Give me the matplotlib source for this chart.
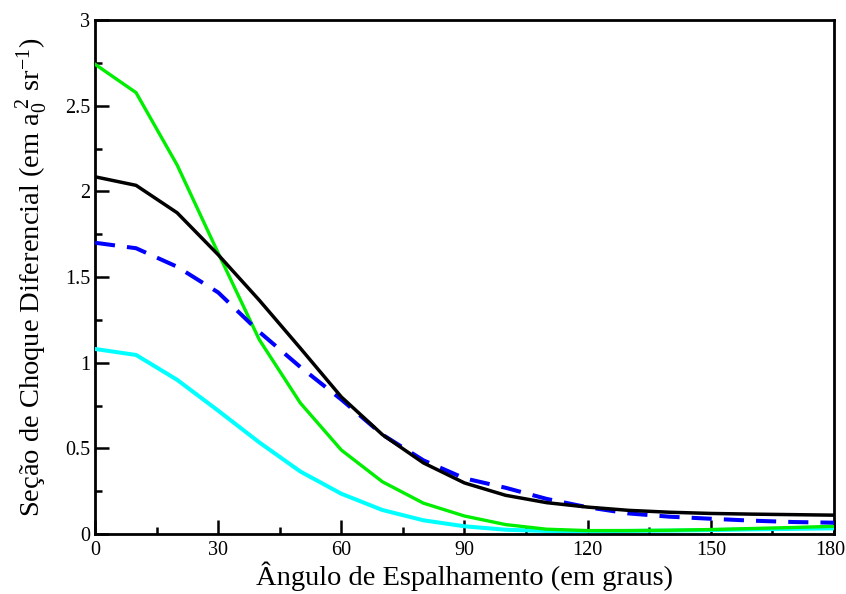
import matplotlib

matplotlib.use("Agg")
import matplotlib.pyplot as plt
from matplotlib.ticker import FuncFormatter, MultipleLocator
from matplotlib.transforms import ScaledTranslation

# scattering angle (degrees)
angles = [0, 10, 20, 30, 40, 50, 60, 70, 80, 90, 100, 110, 120, 130, 140, 150, 160, 170, 180]

# differential cross sections (a0^2 sr^-1)
dcs_black = [2.085, 2.035, 1.875, 1.63, 1.365, 1.085, 0.80, 0.58, 0.415, 0.298, 0.226, 0.183,
             0.157, 0.138, 0.127, 0.120, 0.116, 0.113, 0.110]
dcs_blue = [1.70, 1.668, 1.56, 1.41, 1.18, 0.975, 0.785, 0.58, 0.43, 0.325, 0.27, 0.205,
            0.156, 0.12, 0.101, 0.089, 0.078, 0.070, 0.066]
dcs_green = [2.742, 2.576, 2.154, 1.64, 1.135, 0.765, 0.49, 0.305, 0.18, 0.105, 0.055, 0.028,
             0.02, 0.02, 0.022, 0.026, 0.032, 0.038, 0.045]
dcs_cyan = [1.08, 1.045, 0.90, 0.72, 0.535, 0.365, 0.235, 0.14, 0.08, 0.045, 0.025, 0.018,
            0.017, 0.018, 0.020, 0.023, 0.027, 0.030, 0.033]

plt.rcParams["font.family"] = ["Liberation Serif", "DejaVu Serif"]
plt.rcParams["mathtext.fontset"] = "custom"
plt.rcParams["mathtext.rm"] = "Liberation Serif"
plt.rcParams["mathtext.it"] = "Liberation Serif:italic"

fig = plt.figure(figsize=(8.46, 5.94), dpi=100, facecolor="white")
ax = fig.add_axes([0.1123, 0.101, 0.8735, 0.8653])

ax.plot(angles, dcs_cyan, color="#00FFFF", linewidth=2.9, zorder=3)
ax.plot(angles, dcs_green, color="#00EE00", linewidth=2.4, zorder=4)
ax.plot(angles, dcs_blue, color="#0000FF", linewidth=2.9, dashes=(5, 3), zorder=5)
ax.plot(angles, dcs_black, color="black", linewidth=2.5, zorder=6)

ax.set_xlim(0, 180)
ax.set_ylim(0, 3)
ax.set_xticks([0, 30, 60, 90, 120, 150, 180])
ax.xaxis.set_minor_locator(MultipleLocator(15))
ax.yaxis.set_major_locator(MultipleLocator(0.5))
ax.yaxis.set_minor_locator(MultipleLocator(0.25))
ax.yaxis.set_major_formatter(FuncFormatter(lambda v, _: f"{v:g}"))

for spine in ax.spines.values():
    spine.set_linewidth(2.0)

ax.tick_params(which="both", direction="in", top=False, right=False, width=1.8, labelsize=14.5)
ax.tick_params(which="major", length=10)
ax.tick_params(which="minor", length=5)
ax.tick_params(axis="x", pad=5)
ax.tick_params(axis="y", pad=3.5)

ax.set_xlabel("Ângulo de Espalhamento (em graus)", fontsize=20.5, labelpad=1)
ax.set_ylabel(r"Seção de Choque Diferencial (em $\mathrm{a}_0^{\;2}$ sr$^{-1}$)", fontsize=20.5)
ax.yaxis.set_label_coords(-0.061, 0.5)

# keep the "180" tick label inside the figure
fig.canvas.draw()
for lbl in ax.get_xticklabels():
    if lbl.get_text() == "180":
        lbl.set_transform(lbl.get_transform() + ScaledTranslation(-4 / 100, 0, fig.dpi_scale_trans))

fig.savefig("out.png", dpi=100, facecolor="white")
plt.close(fig)
